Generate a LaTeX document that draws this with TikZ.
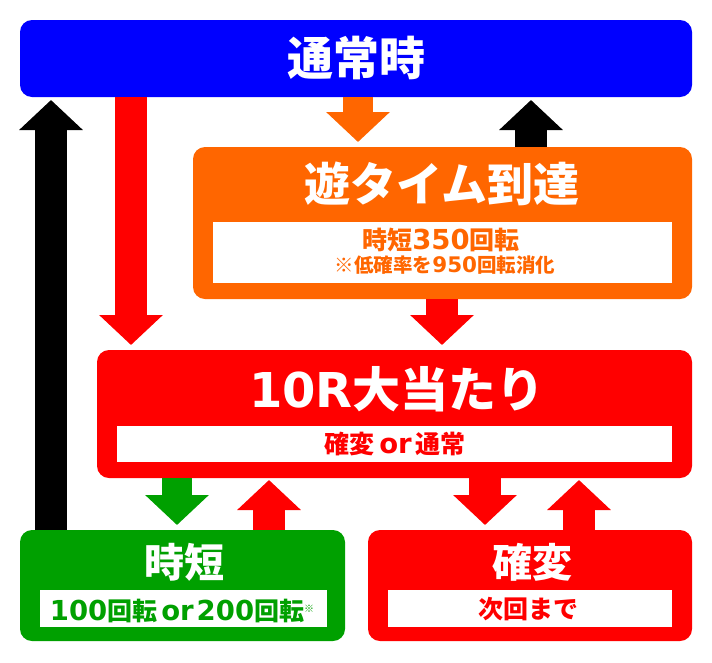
\documentclass[tikz,border=0pt]{standalone}
\usepackage{fontspec}
\setmainfont{Noto Sans CJK JP}
\newfontfamily\dgfont{DejaVu Sans}[Scale=1.1]
\newfontfamily\dgtfont{DejaVu Sans}
\usetikzlibrary{arrows.meta,positioning}
\definecolor{cblue}{RGB}{0,0,255}
\definecolor{corange}{RGB}{255,102,0}
\definecolor{cred}{RGB}{255,0,0}
\definecolor{cgreen}{RGB}{0,160,0}
\newcommand\dg[1]{{\dgfont #1}}
\tikzset{
  panel/.style={anchor=north west,rounded corners=12pt,inner sep=0pt,outer sep=0pt},
  inner/.style={anchor=north west,fill=white,inner sep=0pt,outer sep=0pt},
  ttl/.style={text=white,font=\bfseries\fontsize{46}{46}\selectfont,inner sep=0pt},
  ttls/.style={ttl,font=\bfseries\fontsize{40}{40}\selectfont},
  sub/.style={font=\bfseries\fontsize{25}{27}\selectfont,inner sep=0pt,align=center},
  fat/.style={line width=32pt,-{Triangle[width=62pt,length=30pt]}},
}
\begin{document}
\begin{tikzpicture}[x=1pt,y=-1pt]
\useasboundingbox (0,0) rectangle (712,662);
% panels
\node[panel,fill=cblue,minimum width=672pt,minimum height=77pt] (top) at (20,20) {};
\node[panel,fill=corange,minimum width=499pt,minimum height=152pt] (yu) at (193,147) {};
\node[panel,fill=cred,minimum width=595pt,minimum height=128pt] (oa) at (97,350) {};
\node[panel,fill=cgreen,minimum width=325pt,minimum height=111pt] (jt) at (20,530) {};
\node[panel,fill=cred,minimum width=324pt,minimum height=111pt] (kh) at (368,530) {};
% white inner boxes
\node[inner,minimum width=459pt,minimum height=61pt] (yuin) at (213,222) {};
\node[inner,minimum width=555pt,minimum height=36pt] (oain) at (117,426) {};
\node[inner,minimum width=287pt,minimum height=37pt] (jtin) at (40,590) {};
\node[inner,minimum width=284pt,minimum height=37pt] (khin) at (388,590) {};
% titles
\node[ttl] (ttop) at (356,58) {通常時};
\node[ttl] (tyu) at (442,184) {遊タイム到達};
\node[ttl,font=\bfseries\fontsize{48}{48}\selectfont] (toa) at (397,389) {{\dgtfont 10R}大当たり};
\node[ttls] (tjt) at (184,562) {時短};
\node[ttls] (tkh) at (532,562) {確変};
% sub texts
\node[sub,text=corange] (syu1) at (441,240) {時短\dg{350}回転};
\node[sub,text=corange,font=\bfseries\fontsize{19.5}{21}\selectfont] (syu2) at (445,265) {※低確率を\dg{950}回転消化};
\node[sub,text=cred] (soa) at (395,444) {確変\hspace{5pt}\dg{or}\hspace{4pt}通常};
\node[sub,text=cgreen] (sjt) at (182,611) {\dg{100}回転\hspace{4pt}\dg{or}\hspace{3pt}\dg{200}回転\raisebox{8pt}{\fontsize{10}{10}\selectfont ※}};
\node[sub,text=cred] (skh) at (528,609) {次回まで};
% arrow tips
\coordinate (t1) at (51,100);
\coordinate (t2) at (131,345);
\coordinate (t3) at (358,142);
\coordinate (t4) at (531,100);
\coordinate (t5) at (442,345);
\coordinate (t6) at (177,525);
\coordinate (t7) at (269,480);
\coordinate (t8) at (485,525);
\coordinate (t9) at (579,480);
% connectors
\draw[fat,black] (jt.north -| t1) -- (t1);
\draw[fat,cred] (top.south -| t2) -- (t2);
\draw[fat,corange,line width=30pt] (top.south -| t3) -- (t3);
\draw[fat,black] (yu.north -| t4) -- (t4);
\draw[fat,cred] (yu.south -| t5) -- (t5);
\draw[fat,cgreen,line width=30pt] (oa.south -| t6) -- (t6);
\draw[fat,cred] (jt.north -| t7) -- (t7);
\draw[fat,cred] (oa.south -| t8) -- (t8);
\draw[fat,cred] (kh.north -| t9) -- (t9);
\end{tikzpicture}
\end{document}
